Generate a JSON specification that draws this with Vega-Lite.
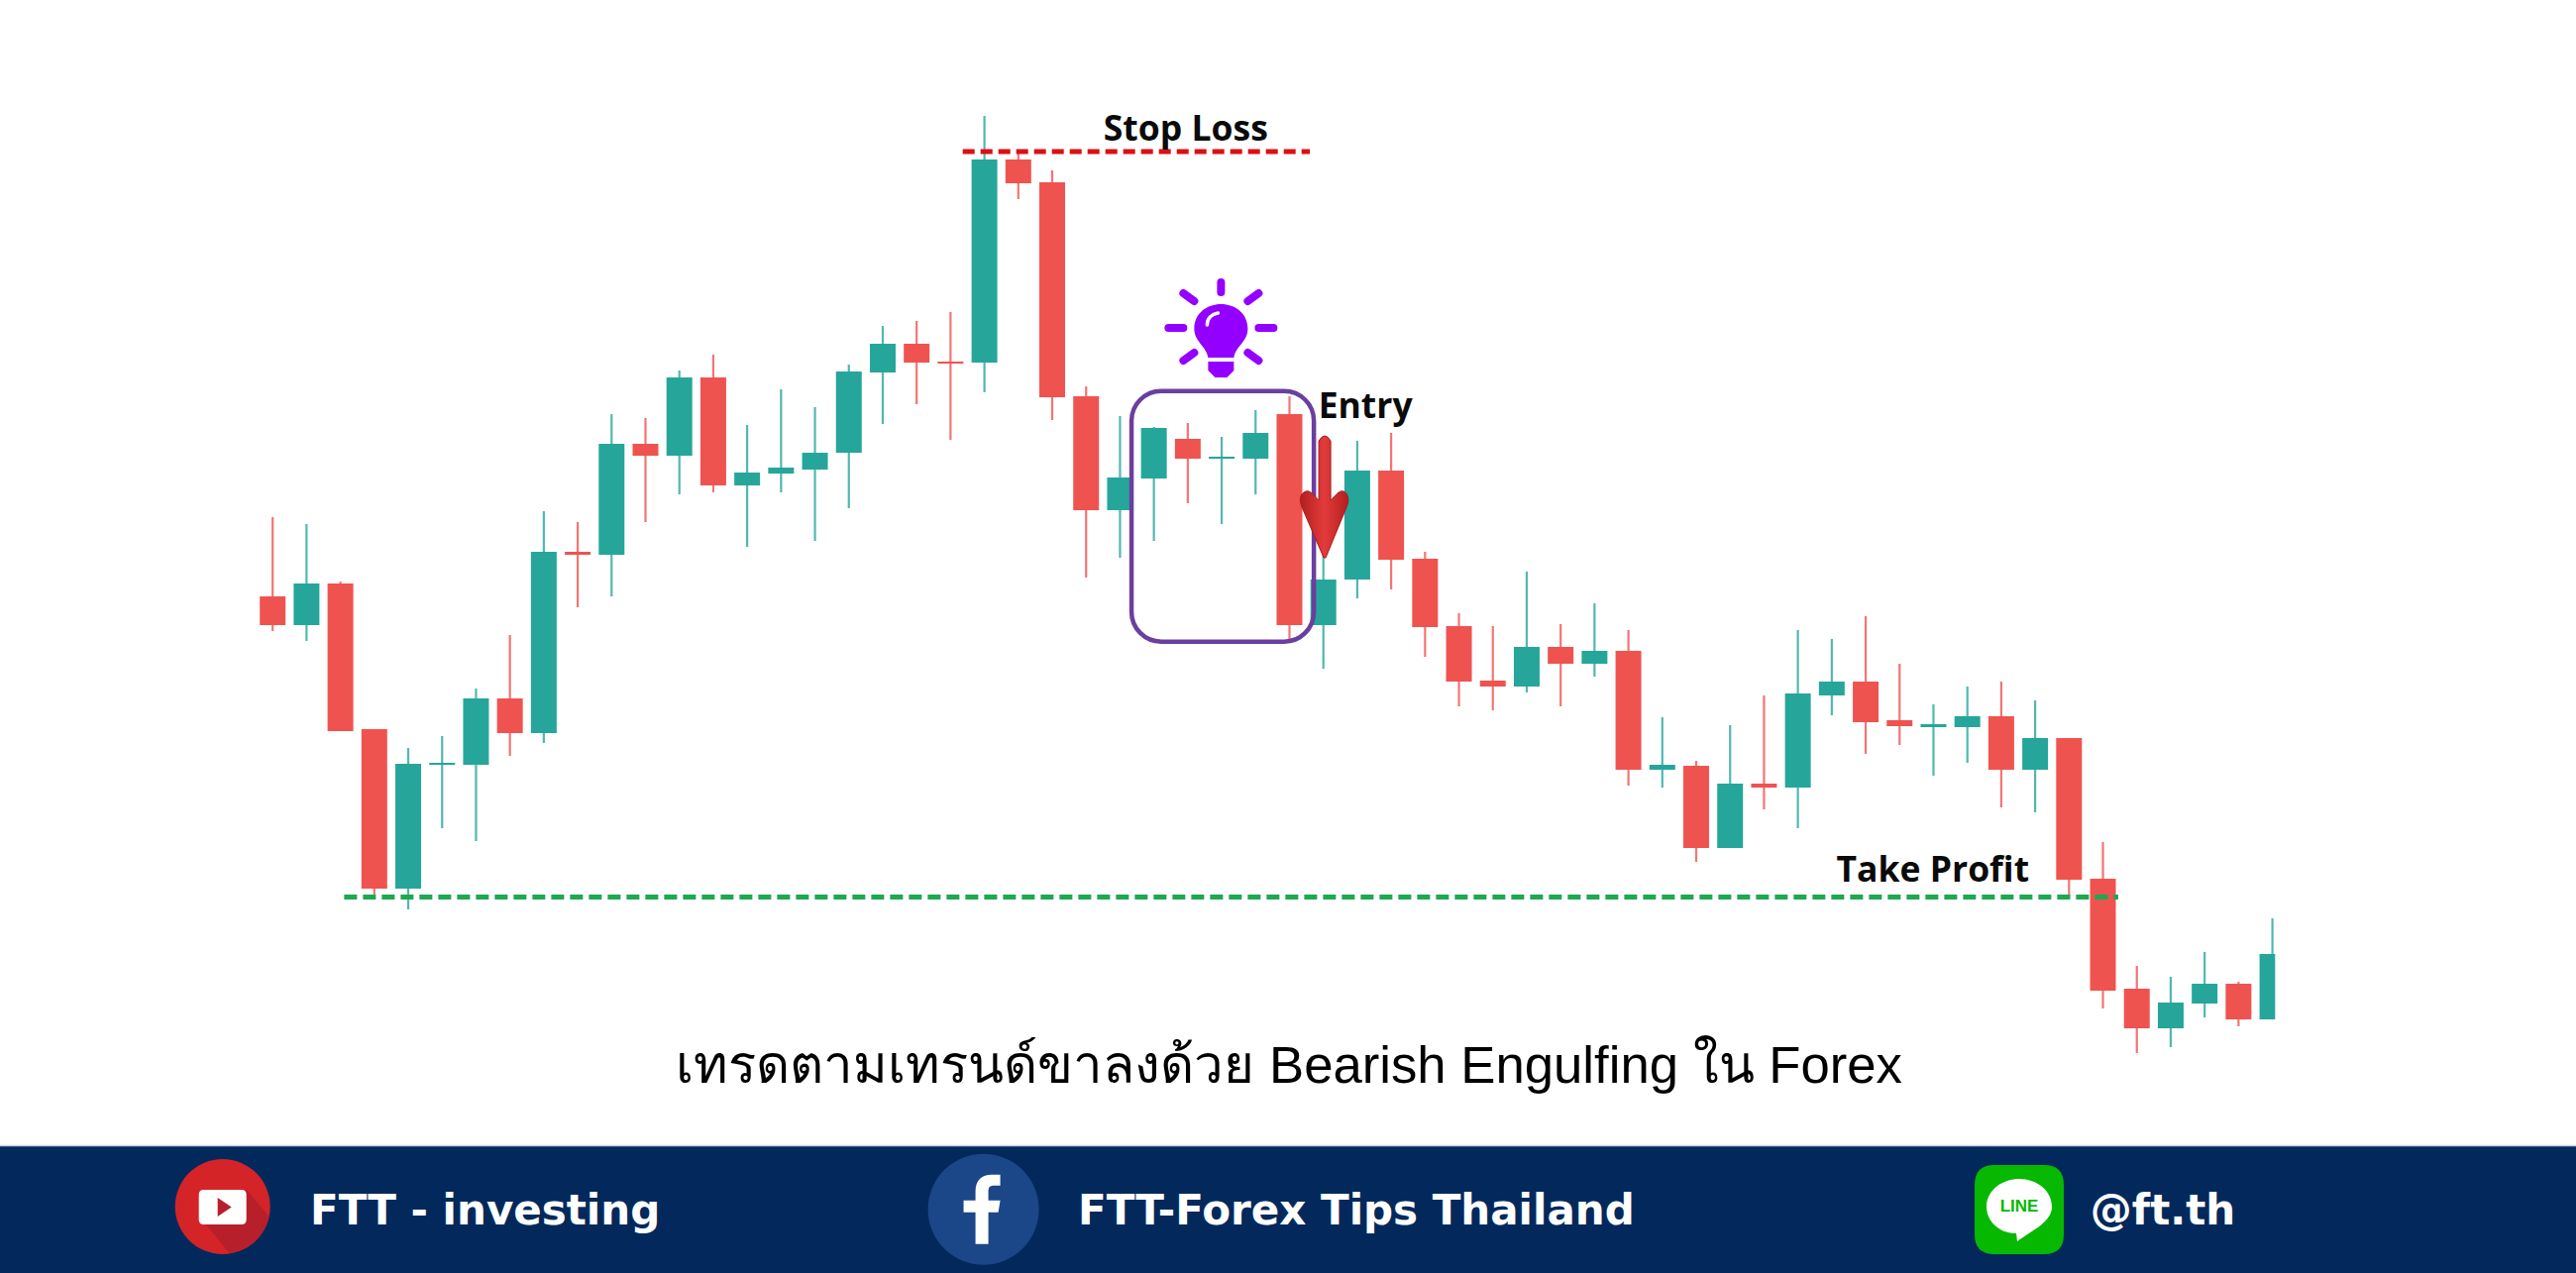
{"$schema":"https://vega.github.io/schema/vega-lite/v6.json","width":2600,"height":1285,"autosize":{"type":"none"},"padding":0,"background":"#ffffff","config":{"view":{"stroke":null}},
"datasets":{"candles":[
{"t":1,"open":683,"high":763,"low":648,"close":654,"dir":"down"},
{"t":2,"open":654,"high":756,"low":638,"close":696,"dir":"up"},
{"t":3,"open":696,"high":698,"low":547,"close":547,"dir":"down"},
{"t":4,"open":549,"high":549,"low":381,"close":388,"dir":"down"},
{"t":5,"open":388,"high":530,"low":367,"close":514,"dir":"up"},
{"t":6,"open":513,"high":542,"low":449,"close":515,"dir":"up"},
{"t":7,"open":513,"high":590,"low":436,"close":580,"dir":"up"},
{"t":8,"open":580,"high":644,"low":522,"close":545,"dir":"down"},
{"t":9,"open":545,"high":769,"low":535,"close":728,"dir":"up"},
{"t":10,"open":728,"high":758,"low":672,"close":725,"dir":"down"},
{"t":11,"open":725,"high":867,"low":683,"close":837,"dir":"up"},
{"t":12,"open":837,"high":863,"low":758,"close":825,"dir":"down"},
{"t":13,"open":825,"high":911,"low":786,"close":904,"dir":"up"},
{"t":14,"open":904,"high":927,"low":788,"close":795,"dir":"down"},
{"t":15,"open":795,"high":856,"low":733,"close":808,"dir":"up"},
{"t":16,"open":807,"high":892,"low":788,"close":813,"dir":"up"},
{"t":17,"open":811,"high":874,"low":739,"close":828,"dir":"up"},
{"t":18,"open":828,"high":917,"low":772,"close":910,"dir":"up"},
{"t":19,"open":909,"high":956,"low":857,"close":938,"dir":"up"},
{"t":20,"open":938,"high":961,"low":877,"close":919,"dir":"down"},
{"t":21,"open":920,"high":970,"low":841,"close":918,"dir":"down"},
{"t":22,"open":919,"high":1168,"low":889,"close":1124,"dir":"up"},
{"t":23,"open":1124,"high":1131,"low":1084,"close":1100,"dir":"down"},
{"t":24,"open":1101,"high":1113,"low":861,"close":884,"dir":"down"},
{"t":25,"open":885,"high":895,"low":702,"close":770,"dir":"down"},
{"t":26,"open":770,"high":865,"low":722,"close":803,"dir":"up"},
{"t":27,"open":802,"high":854,"low":739,"close":853,"dir":"up"},
{"t":28,"open":842,"high":858,"low":777,"close":822,"dir":"down"},
{"t":29,"open":822,"high":844,"low":756,"close":824,"dir":"up"},
{"t":30,"open":822,"high":871,"low":786,"close":848,"dir":"up"},
{"t":31,"open":867,"high":885,"low":639,"close":654,"dir":"down"},
{"t":32,"open":654,"high":740,"low":610,"close":700,"dir":"up"},
{"t":33,"open":700,"high":840,"low":681,"close":810,"dir":"up"},
{"t":34,"open":810,"high":848,"low":690,"close":720,"dir":"down"},
{"t":35,"open":721,"high":728,"low":622,"close":652,"dir":"down"},
{"t":36,"open":653,"high":666,"low":572,"close":597,"dir":"down"},
{"t":37,"open":598,"high":653,"low":568,"close":592,"dir":"down"},
{"t":38,"open":592,"high":708,"low":586,"close":632,"dir":"up"},
{"t":39,"open":632,"high":655,"low":572,"close":615,"dir":"down"},
{"t":40,"open":615,"high":676,"low":602,"close":628,"dir":"up"},
{"t":41,"open":628,"high":649,"low":492,"close":508,"dir":"down"},
{"t":42,"open":508,"high":561,"low":490,"close":513,"dir":"up"},
{"t":43,"open":512,"high":517,"low":415,"close":429,"dir":"down"},
{"t":44,"open":429,"high":553,"low":429,"close":494,"dir":"up"},
{"t":45,"open":494,"high":583,"low":468,"close":490,"dir":"down"},
{"t":46,"open":490,"high":649,"low":449,"close":585,"dir":"up"},
{"t":47,"open":583,"high":640,"low":563,"close":597,"dir":"up"},
{"t":48,"open":597,"high":663,"low":524,"close":556,"dir":"down"},
{"t":49,"open":558,"high":615,"low":533,"close":552,"dir":"down"},
{"t":50,"open":551,"high":574,"low":502,"close":554,"dir":"up"},
{"t":51,"open":551,"high":592,"low":515,"close":562,"dir":"up"},
{"t":52,"open":562,"high":597,"low":470,"close":508,"dir":"down"},
{"t":53,"open":508,"high":578,"low":465,"close":540,"dir":"up"},
{"t":54,"open":540,"high":540,"low":378,"close":397,"dir":"down"},
{"t":55,"open":398,"high":435,"low":267,"close":285,"dir":"down"},
{"t":56,"open":287,"high":310,"low":222,"close":247,"dir":"down"},
{"t":57,"open":247,"high":299,"low":228,"close":273,"dir":"up"},
{"t":58,"open":272,"high":324,"low":258,"close":292,"dir":"up"},
{"t":59,"open":292,"high":294,"low":249,"close":256,"dir":"down"},
{"t":60,"open":256,"high":358,"low":256,"close":322,"dir":"up"}
]},
"encoding":{"x":{"field":"t","type":"quantitative","scale":{"domain":[-7.044,68.957],"nice":false,"zero":false,"padding":0},"axis":null},"y":{"field":"v","type":"quantitative","scale":{"domain":[0,1285],"nice":false,"zero":false},"axis":null}},
"layer":[
{"data":{"name":"candles"},"mark":{"type":"rule","strokeWidth":2.2,"opacity":0.8},"encoding":{"y":{"field":"low","type":"quantitative"},"y2":{"field":"high"},"color":{"field":"dir","type":"nominal","legend":null,"scale":{"domain":["down","up"],"range":["#ef5350","#26a69a"]}}}},
{"data":{"name":"candles"},"mark":{"type":"bar","width":26},"encoding":{"y":{"field":"open","type":"quantitative"},"y2":{"field":"close"},"color":{"field":"dir","type":"nominal","legend":null}}},
{"data":{"values":[{"t":60.08,"t2":60.7,"v":240,"v2":340}]},"mark":{"type":"rect","fill":"#ffffff"},"encoding":{"x2":{"field":"t2"},"y2":{"field":"v2"}}},
{"data":{"values":[{"t":21.36,"t2":31.6,"v":1132,"label":"Stop Loss level"}]},"mark":{"type":"rule","color":"#dc0f14","strokeWidth":5,"strokeDash":[12,6]},"encoding":{"x2":{"field":"t2"}}},
{"data":{"values":[{"t":3.11,"t2":55.45,"v":379.5,"label":"Take Profit level"}]},"mark":{"type":"rule","color":"#1ea850","strokeWidth":5,"strokeDash":[13,6]},"encoding":{"x2":{"field":"t2"}}},
{"data":{"values":[{"t":26.34,"t2":31.72,"v":637.3,"v2":890.3}]},"mark":{"type":"rect","fillOpacity":0,"stroke":"#6b3fa0","strokeWidth":4.5,"cornerRadius":30},"encoding":{"x2":{"field":"t2"},"y2":{"field":"v2"}}},
{"data":{"values":[{"t":28.98,"v":954}]},"mark":{"type":"point","filled":false,"size":4,"opacity":1,"stroke":"#9400ff","strokeWidth":8,"strokeCap":"round","shape":"M 0,-46 L 0,-36 M -53,0 L -38,0 M 38,0 L 53,0 M -38,-35 L -27,-27 M 38,-35 L 27,-27 M -38,33 L -27,25 M 38,33 L 27,25"}},
{"data":{"values":[{"t":28.98,"v":954}]},"mark":{"type":"point","filled":true,"size":4,"opacity":1,"fill":"#9400ff","shape":"M -27,1 C -27,-15 -14,-24 0,-24 C 14,-24 27,-15 27,1 C 27,14 15,18 13,30 L -13,30 C -15,18 -27,14 -27,1 Z M -13,34 L 13,34 L 13,43 L 6,50 L -6,50 L -13,43 Z"}},
{"data":{"values":[{"t":28.98,"v":954}]},"mark":{"type":"point","filled":false,"size":4,"opacity":1,"stroke":"#ffffff","strokeWidth":3.5,"strokeCap":"round","shape":"M -14,-3 C -14,-10 -9,-14 -3,-15"}},
{"data":{"values":[{"t":32.04,"v":785}]},"mark":{"type":"point","filled":true,"size":4,"opacity":1,"stroke":"#a81c1c","strokeWidth":1,"fill":{"x1":0,"y1":0,"x2":1,"y2":0,"gradient":"linear","stops":[{"offset":0,"color":"#b31f1f"},{"offset":0.5,"color":"#e23b3b"},{"offset":1,"color":"#b31f1f"}]},"shape":"M -6,-55 Q 0,-65 6,-55 L 6,5 C 9,2 15,-6 19,-4 C 24,-2 25,5 22,12 L 1,63 L -1,63 L -23,12 C -26,5 -25,-2 -19,-4 C -15,-6 -9,2 -6,5 Z"}},
{"data":{"values":[{"t":27.94,"v":1143,"label":"Stop Loss"},{"t":33.24,"v":863.5,"label":"Entry"},{"t":49.98,"v":395,"label":"Take Profit"}]},"mark":{"type":"text","font":"Open Sans","fontWeight":"bold","fontSize":35.5,"color":"#0a0a0a","align":"center","baseline":"alphabetic"},"encoding":{"text":{"field":"label"}}},
{"data":{"values":[{"t":30.99,"v":192,"label":"เทรดตามเทรนด์ขาลงด้วย Bearish Engulfing ใน Forex"}]},"mark":{"type":"text","font":"Liberation Sans","fontSize":52.7,"color":"#000000","align":"center","baseline":"alphabetic"},"encoding":{"text":{"field":"label"}}},
{"data":{"values":[{"t":-7.044,"t2":68.957,"v":0,"v2":128}]},"mark":{"type":"rect","fill":"#03295c"},"encoding":{"x2":{"field":"t2"},"y2":{"field":"v2"}}},
{"data":{"values":[{"t":-7.044,"t2":68.957,"v":128.5}]},"mark":{"type":"rule","color":"#c8d0da","strokeWidth":1.5},"encoding":{"x2":{"field":"t2"}}},
{"data":{"values":[{"t":2.105,"v":49.3,"label":"FTT - investing"},{"t":24.76,"v":49.3,"label":"FTT-Forex Tips Thailand"},{"t":54.63,"v":49.3,"label":"@ft.th"}]},"mark":{"type":"text","font":"DejaVu Sans","fontWeight":"bold","fontSize":42,"color":"#ffffff","align":"left","baseline":"alphabetic"},"encoding":{"text":{"field":"label"}}},
{"data":{"values":[{"t":-0.476,"v":67}]},"mark":{"type":"point","filled":true,"size":9216,"opacity":1,"fill":"#d42428","shape":"circle"}},
{"data":{"values":[{"t":-0.476,"v":67}]},"mark":{"type":"point","filled":true,"size":4,"opacity":1,"fill":"#b71f2b","shape":"M -17,18 L 7,47 A 48 48 0 0 0 47,10 L 24,-17 Z"}},
{"data":{"values":[{"t":-0.476,"v":67}]},"mark":{"type":"point","filled":true,"size":4,"opacity":1,"fill":"#ffffff","shape":"M -19,-17 L 19,-17 Q 24,-17 24,-12 L 24,13 Q 24,18 19,18 L -19,18 Q -24,18 -24,13 L -24,-12 Q -24,-17 -19,-17 Z"}},
{"data":{"values":[{"t":-0.476,"v":67}]},"mark":{"type":"point","filled":true,"size":4,"opacity":1,"fill":"#b71f2b","shape":"M -5,-9 L 9,0.5 L -5,10 Z"}},
{"data":{"values":[{"t":21.97,"v":64.3}]},"mark":{"type":"point","filled":true,"size":12544,"opacity":1,"fill":"#1b4688","shape":"circle"}},
{"data":{"values":[{"t":21.97,"v":64.3}]},"mark":{"type":"point","filled":true,"size":4,"opacity":1,"fill":"#ffffff","shape":"M -8,35 L -8,3 L -20,3 L -20,-9 L -8,-9 L -8,-18 C -8,-30 -1,-35 8,-35 L 17,-35 L 17,-24 L 11,-24 C 6,-24 5,-22 5,-18 L 5,-9 L 17,-9 L 15,3 L 5,3 L 5,35 Z"}},
{"data":{"values":[{"t":52.53,"v":64}]},"mark":{"type":"point","filled":true,"size":4,"opacity":1,"fill":"#06b900","shape":"M -25,-45 L 25,-45 Q 45,-45 45,-25 L 45,25 Q 45,45 25,45 L -25,45 Q -45,45 -45,25 L -45,-25 Q -45,-45 -25,-45 Z"}},
{"data":{"values":[{"t":52.53,"v":64}]},"mark":{"type":"point","filled":true,"size":4,"opacity":1,"fill":"#ffffff","shape":"M -33,-3 C -33,-19 -18,-31 0,-31 C 18,-31 33,-19 33,-3 C 33,12 15,20 -2,32 L -3,24 C -20,24 -33,12 -33,-3 Z"}},
{"data":{"values":[{"t":52.53,"v":67,"label":"LINE"}]},"mark":{"type":"text","font":"Liberation Sans","fontWeight":"bold","fontSize":17,"color":"#06b900","align":"center","baseline":"middle"},"encoding":{"text":{"field":"label"}}}
]}
